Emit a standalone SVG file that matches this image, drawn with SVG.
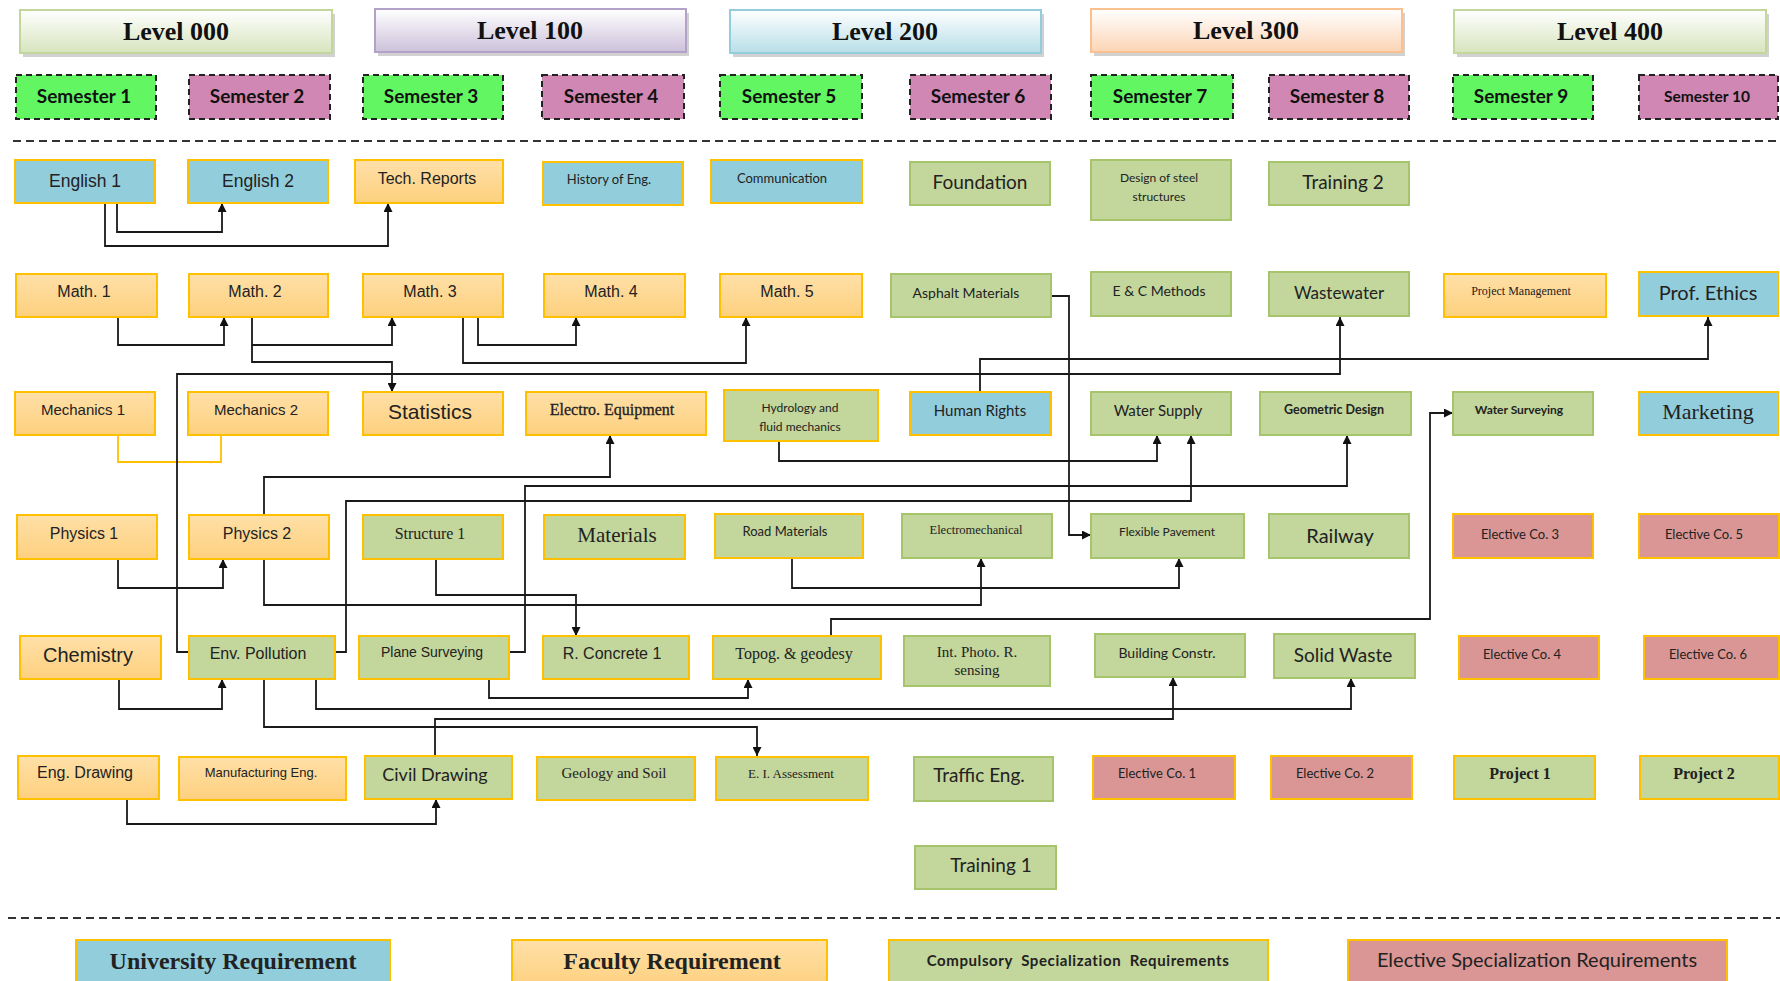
<svg xmlns="http://www.w3.org/2000/svg" width="1780" height="981" viewBox="0 0 1780 981">
<defs>
<style>
.blue{fill:#92cddc;stroke:#ffc000;stroke-width:2}
.org{fill:url(#gO);stroke:#ffc000;stroke-width:2}
.grn{fill:#c3d69b;stroke:#ffc000;stroke-width:2}
.grn2{fill:#c3d69b;stroke:#a6c46c;stroke-width:2}
.red{fill:#d99694;stroke:#ffc000;stroke-width:2}
.sg{fill:#62f762;stroke:#222;stroke-width:2;stroke-dasharray:6,4}
.sp{fill:#d087b3;stroke:#222;stroke-width:2;stroke-dasharray:6,4}
.shadow{fill:#999;opacity:.45}
text{fill:#222;text-anchor:middle}
.a{font-family:"Liberation Sans",Arial,sans-serif}
.c{font-family:Lato,"Open Sans",sans-serif}
.t{font-family:"Liberation Serif","Times New Roman",serif}
.lv{font-family:"Liberation Serif","Times New Roman",serif;font-weight:bold;font-size:26px;fill:#111}
.sem{font-family:Lato,"Open Sans",sans-serif;font-weight:bold;font-size:19px;fill:#111}
.ln{fill:none;stroke:#1a1a1a;stroke-width:1.8;marker-end:url(#ar)}
.dash{stroke:#333;stroke-width:2;stroke-dasharray:8,5}
</style>
<linearGradient id="gO" x1="0" y1="0" x2="0" y2="1"><stop offset="0" stop-color="#ffe0a8"/><stop offset="1" stop-color="#fdd07e"/></linearGradient>
<linearGradient id="gL0" x1="0" y1="0" x2="0" y2="1"><stop offset="0" stop-color="#ffffff"/><stop offset="1" stop-color="#d7e4bd"/></linearGradient>
<linearGradient id="gL1" x1="0" y1="0" x2="0" y2="1"><stop offset="0" stop-color="#ffffff"/><stop offset="1" stop-color="#ccc1da"/></linearGradient>
<linearGradient id="gL2" x1="0" y1="0" x2="0" y2="1"><stop offset="0" stop-color="#ffffff"/><stop offset="1" stop-color="#b7dee8"/></linearGradient>
<linearGradient id="gL3" x1="0" y1="0" x2="0" y2="1"><stop offset="0" stop-color="#ffffff"/><stop offset="1" stop-color="#fcd5b5"/></linearGradient>
<marker id="ar" viewBox="0 0 10 10" refX="10" refY="5" markerWidth="9" markerHeight="9" markerUnits="userSpaceOnUse" orient="auto"><path d="M0,0 L10,5 L0,10 z" fill="#111"/></marker>
</defs>
<rect width="1780" height="981" fill="#fff"/>

<!-- Level headers -->
<g id="level000"><rect class="shadow" x="23" y="14" width="312" height="43"/><rect x="20" y="10" width="312" height="43" fill="url(#gL0)" stroke="#c3d69b" stroke-width="2"/><text class="lv" x="176" y="40">Level 000</text></g>
<g id="level100"><rect class="shadow" x="378" y="13" width="311" height="43"/><rect x="375" y="9" width="311" height="43" fill="url(#gL1)" stroke="#b3a2c7" stroke-width="2"/><text class="lv" x="530" y="39">Level 100</text></g>
<g id="level200"><rect class="shadow" x="733" y="14" width="311" height="43"/><rect x="730" y="10" width="311" height="43" fill="url(#gL2)" stroke="#93cddd" stroke-width="2"/><text class="lv" x="885" y="40">Level 200</text></g>
<g id="level300"><rect class="shadow" x="1094" y="13" width="311" height="43"/><rect x="1091" y="9" width="311" height="43" fill="url(#gL3)" stroke="#fac090" stroke-width="2"/><text class="lv" x="1246" y="39">Level 300</text></g>
<g id="level400"><rect class="shadow" x="1457" y="14" width="312" height="43"/><rect x="1454" y="10" width="312" height="43" fill="url(#gL0)" stroke="#c3d69b" stroke-width="2"/><text class="lv" x="1610" y="40">Level 400</text></g>

<!-- Semesters -->
<g id="sem1"><rect class="sg" x="16" y="75" width="140" height="44"/><text class="sem" x="84" y="103">Semester 1</text></g>
<g id="sem2"><rect class="sp" x="189" y="75" width="141" height="44"/><text class="sem" x="257" y="103">Semester 2</text></g>
<g id="sem3"><rect class="sg" x="363" y="75" width="140" height="44"/><text class="sem" x="431" y="103">Semester 3</text></g>
<g id="sem4"><rect class="sp" x="542" y="75" width="142" height="44"/><text class="sem" x="611" y="103">Semester 4</text></g>
<g id="sem5"><rect class="sg" x="720" y="75" width="142" height="44"/><text class="sem" x="789" y="103">Semester 5</text></g>
<g id="sem6"><rect class="sp" x="910" y="75" width="141" height="44"/><text class="sem" x="978" y="103">Semester 6</text></g>
<g id="sem7"><rect class="sg" x="1091" y="75" width="142" height="44"/><text class="sem" x="1160" y="103">Semester 7</text></g>
<g id="sem8"><rect class="sp" x="1269" y="75" width="140" height="44"/><text class="sem" x="1337" y="103">Semester 8</text></g>
<g id="sem9"><rect class="sg" x="1453" y="75" width="140" height="44"/><text class="sem" x="1521" y="103">Semester 9</text></g>
<g id="sem10"><rect class="sp" x="1639" y="75" width="139" height="44"/><text class="sem" x="1707" y="102" style="font-size:15.5px">Semester 10</text></g>

<line class="dash" x1="13" y1="141" x2="1780" y2="141"/>
<line class="dash" x1="8" y1="918" x2="1780" y2="918"/>

<!-- Connectors -->
<g id="connectors">
<path class="ln" d="M117,203 V232 H222 V203"/>
<path class="ln" d="M105,203 V246 H388 V203"/>
<path class="ln" d="M118,317 V345 H224 V317"/>
<path class="ln" d="M252,317 V345 H392 V317"/>
<path class="ln" d="M252,345 V362 H392 V392"/>
<path class="ln" d="M478,317 V345 H576 V317"/>
<path class="ln" d="M463,317 V363 H746 V317"/>
<path d="M118,435 V462 H221 V435" fill="none" stroke="#ffc000" stroke-width="1.8"/>
<path class="ln" d="M189,652 H177 V374 H1340 V317"/>
<path class="ln" d="M980,392 V359 H1708 V317"/>
<path class="ln" d="M1051,296 H1069 V535 H1091"/>
<path class="ln" d="M779,441 V461 H1157 V435"/>
<path class="ln" d="M264,515 V477 H610 V435"/>
<path class="ln" d="M509,652 H525 V486 H1347 V435"/>
<path class="ln" d="M335,652 H346 V501 H1191 V435"/>
<path class="ln" d="M118,559 V588 H223 V559"/>
<path class="ln" d="M264,559 V605 H981 V558"/>
<path class="ln" d="M792,558 V588 H1179 V558"/>
<path class="ln" d="M436,559 V595 H576 V636"/>
<path class="ln" d="M831,636 V619 H1430 V413 H1453"/>
<path class="ln" d="M489,679 V698 H748 V679"/>
<path class="ln" d="M119,679 V709 H222 V679"/>
<path class="ln" d="M316,679 V709 H1351 V678"/>
<path class="ln" d="M264,679 V727 H757 V756"/>
<path class="ln" d="M435,756 V719 H1173 V677"/>
<path class="ln" d="M127,799 V824 H436 V799"/>
</g>

<!-- Row 1 -->
<g id="english1"><rect class="blue" x="15" y="160" width="140" height="43"/><text class="a" x="85" y="187" font-size="17.5">English 1</text></g>
<g id="english2"><rect class="blue" x="188" y="160" width="140" height="43"/><text class="a" x="258" y="187" font-size="17.5">English 2</text></g>
<g id="techreports"><rect class="org" x="355" y="160" width="148" height="43"/><text class="a" x="427" y="184" font-size="16">Tech. Reports</text></g>
<g id="history"><rect class="blue" x="543" y="162" width="140" height="43"/><text class="c" x="609" y="184" font-size="13">History of Eng.</text></g>
<g id="communication"><rect class="blue" x="711" y="160" width="151" height="43"/><text class="c" x="782" y="183" font-size="13">Communication</text></g>
<g id="foundation"><rect class="grn2" x="910" y="162" width="140" height="43"/><text class="c" x="980" y="189" font-size="19">Foundation</text></g>
<g id="steel"><rect class="grn2" x="1091" y="160" width="140" height="60"/><text class="c" x="1159" y="182" font-size="12">Design of steel</text><text class="c" x="1159" y="201" font-size="12">structures</text></g>
<g id="training2"><rect class="grn2" x="1269" y="162" width="140" height="43"/><text class="c" x="1343" y="189" font-size="19">Training 2</text></g>

<!-- Row 2 -->
<g id="math1"><rect class="org" x="16" y="274" width="141" height="43"/><text class="a" x="84" y="297" font-size="16">Math. 1</text></g>
<g id="math2"><rect class="org" x="189" y="274" width="139" height="43"/><text class="a" x="255" y="297" font-size="16">Math. 2</text></g>
<g id="math3"><rect class="org" x="363" y="274" width="140" height="43"/><text class="a" x="430" y="297" font-size="16">Math. 3</text></g>
<g id="math4"><rect class="org" x="544" y="274" width="141" height="43"/><text class="a" x="611" y="297" font-size="16">Math. 4</text></g>
<g id="math5"><rect class="org" x="720" y="274" width="142" height="43"/><text class="a" x="787" y="297" font-size="16">Math. 5</text></g>
<g id="asphalt"><rect class="grn2" x="891" y="274" width="160" height="43"/><text class="c" x="966" y="298" font-size="14">Asphalt Materials</text></g>
<g id="ecmethods"><rect class="grn2" x="1091" y="272" width="140" height="44"/><text class="c" x="1159" y="296" font-size="14">E &amp; C Methods</text></g>
<g id="wastewater"><rect class="grn2" x="1269" y="272" width="140" height="44"/><text class="c" x="1339" y="299" font-size="17">Wastewater</text></g>
<g id="projmgmt"><rect class="org" x="1444" y="274" width="162" height="43"/><text class="t" x="1521" y="295" font-size="12">Project Management</text></g>
<g id="profethics"><rect class="blue" x="1639" y="272" width="139" height="44"/><text class="c" x="1708" y="300" font-size="20">Prof. Ethics</text></g>

<!-- Row 3 -->
<g id="mechanics1"><rect class="org" x="15" y="392" width="140" height="43"/><text class="a" x="83" y="415" font-size="15">Mechanics 1</text></g>
<g id="mechanics2"><rect class="org" x="188" y="392" width="140" height="43"/><text class="a" x="256" y="415" font-size="15">Mechanics 2</text></g>
<g id="statistics"><rect class="org" x="363" y="392" width="140" height="43"/><text class="a" x="430" y="419" font-size="21">Statistics</text></g>
<g id="electroequip"><rect class="org" x="526" y="392" width="180" height="43"/><text class="t" x="612" y="415" font-size="16" stroke="#222" stroke-width="0.3">Electro. Equipment</text></g>
<g id="hydrology"><rect class="grn" x="724" y="390" width="154" height="51"/><text class="c" x="800" y="412" font-size="12">Hydrology and</text><text class="c" x="800" y="431" font-size="12">fluid mechanics</text></g>
<g id="humanrights"><rect class="blue" x="910" y="392" width="141" height="43"/><text class="c" x="980" y="416" font-size="15">Human Rights</text></g>
<g id="watersupply"><rect class="grn2" x="1091" y="392" width="140" height="43"/><text class="c" x="1158" y="416" font-size="15">Water Supply</text></g>
<g id="geometric"><rect class="grn2" x="1260" y="392" width="151" height="43"/><text class="c" x="1334" y="414" font-size="12.5" font-weight="bold">Geometric Design</text></g>
<g id="watersurveying"><rect class="grn2" x="1453" y="392" width="140" height="43"/><text class="c" x="1519" y="414" font-size="12" font-weight="bold">Water Surveying</text></g>
<g id="marketing"><rect class="blue" x="1639" y="392" width="139" height="43"/><text class="t" x="1708" y="419" font-size="22">Marketing</text></g>

<!-- Row 4 -->
<g id="physics1"><rect class="org" x="17" y="515" width="140" height="44"/><text class="a" x="84" y="539" font-size="16">Physics 1</text></g>
<g id="physics2"><rect class="org" x="189" y="515" width="140" height="44"/><text class="a" x="257" y="539" font-size="16">Physics 2</text></g>
<g id="structure1"><rect class="grn" x="363" y="515" width="140" height="44"/><text class="t" x="430" y="539" font-size="16">Structure 1</text></g>
<g id="materials"><rect class="grn" x="544" y="515" width="141" height="44"/><text class="t" x="617" y="542" font-size="21">Materials</text></g>
<g id="roadmaterials"><rect class="grn" x="715" y="514" width="148" height="44"/><text class="c" x="785" y="536" font-size="13">Road Materials</text></g>
<g id="electromech"><rect class="grn2" x="902" y="514" width="150" height="44"/><text class="t" x="976" y="534" font-size="12.5">Electromechanical</text></g>
<g id="flexible"><rect class="grn2" x="1091" y="514" width="153" height="44"/><text class="c" x="1167" y="536" font-size="12">Flexible Pavement</text></g>
<g id="railway"><rect class="grn2" x="1269" y="514" width="140" height="44"/><text class="c" x="1340" y="543" font-size="20">Railway</text></g>
<g id="elective3"><rect class="red" x="1453" y="514" width="140" height="44"/><text class="c" x="1520" y="539" font-size="13">Elective Co. 3</text></g>
<g id="elective5"><rect class="red" x="1639" y="514" width="140" height="44"/><text class="c" x="1704" y="539" font-size="13">Elective Co. 5</text></g>

<!-- Row 5 -->
<g id="chemistry"><rect class="org" x="20" y="636" width="141" height="43"/><text class="a" x="88" y="662" font-size="20">Chemistry</text></g>
<g id="envpollution"><rect class="grn" x="189" y="636" width="146" height="43"/><text class="a" x="258" y="659" font-size="16">Env. Pollution</text></g>
<g id="planesurveying"><rect class="grn" x="359" y="636" width="150" height="43"/><text class="a" x="432" y="657" font-size="14">Plane Surveying</text></g>
<g id="rconcrete1"><rect class="grn" x="543" y="636" width="146" height="43"/><text class="a" x="612" y="659" font-size="16">R. Concrete 1</text></g>
<g id="topog"><rect class="grn" x="713" y="636" width="168" height="43"/><text class="t" x="794" y="659" font-size="16">Topog. &amp; geodesy</text></g>
<g id="intphoto"><rect class="grn2" x="904" y="636" width="146" height="50"/><text class="t" x="977" y="657" font-size="15">Int. Photo. R.</text><text class="t" x="977" y="675" font-size="15">sensing</text></g>
<g id="buildingconstr"><rect class="grn2" x="1095" y="634" width="150" height="43"/><text class="c" x="1167" y="658" font-size="14">Building Constr.</text></g>
<g id="solidwaste"><rect class="grn2" x="1274" y="634" width="141" height="44"/><text class="c" x="1343" y="662" font-size="19">Solid Waste</text></g>
<g id="elective4"><rect class="red" x="1459" y="636" width="140" height="43"/><text class="c" x="1522" y="659" font-size="13">Elective Co. 4</text></g>
<g id="elective6"><rect class="red" x="1644" y="636" width="135" height="43"/><text class="c" x="1708" y="659" font-size="13">Elective Co. 6</text></g>

<!-- Row 6 -->
<g id="engdrawing"><rect class="org" x="18" y="756" width="141" height="43"/><text class="a" x="85" y="778" font-size="16">Eng. Drawing</text></g>
<g id="manufacturing"><rect class="org" x="179" y="757" width="167" height="43"/><text class="a" x="261" y="777" font-size="13">Manufacturing Eng.</text></g>
<g id="civildrawing"><rect class="grn" x="365" y="756" width="147" height="43"/><text class="c" x="435" y="781" font-size="18">Civil Drawing</text></g>
<g id="geology"><rect class="grn" x="537" y="757" width="158" height="43"/><text class="t" x="614" y="778" font-size="15">Geology and Soil</text></g>
<g id="eia"><rect class="grn" x="716" y="757" width="152" height="43"/><text class="t" x="791" y="778" font-size="13">E. I. Assessment</text></g>
<g id="traffic"><rect class="grn2" x="914" y="757" width="139" height="44"/><text class="c" x="979" y="782" font-size="19">Traffic Eng.</text></g>
<g id="elective1"><rect class="red" x="1093" y="756" width="142" height="43"/><text class="c" x="1157" y="778" font-size="13">Elective Co. 1</text></g>
<g id="elective2"><rect class="red" x="1271" y="756" width="141" height="43"/><text class="c" x="1335" y="778" font-size="13">Elective Co. 2</text></g>
<g id="project1"><rect class="grn" x="1454" y="756" width="141" height="43"/><text class="t" x="1520" y="779" font-size="16" font-weight="bold">Project 1</text></g>
<g id="project2"><rect class="grn" x="1640" y="756" width="139" height="43"/><text class="t" x="1704" y="779" font-size="16" font-weight="bold">Project 2</text></g>

<g id="training1"><rect class="grn2" x="915" y="846" width="141" height="43"/><text class="c" x="991" y="872" font-size="19">Training 1</text></g>

<!-- Legend -->
<g id="legend-university"><rect class="blue" x="76" y="940" width="314" height="48"/><text class="t" x="233" y="969" font-size="24" font-weight="bold">University Requirement</text></g>
<g id="legend-faculty"><rect class="org" x="512" y="940" width="315" height="48"/><text class="t" x="672" y="969" font-size="24" font-weight="bold">Faculty Requirement</text></g>
<g id="legend-compulsory"><rect class="grn" x="889" y="940" width="379" height="48"/><text class="c" x="1078" y="966" font-size="15" font-weight="bold" letter-spacing="0.6" xml:space="preserve">Compulsory  Specialization  Requirements</text></g>
<g id="legend-elective"><rect class="red" x="1348" y="940" width="379" height="48"/><text class="c" x="1537" y="967" font-size="20">Elective Specialization Requirements</text></g>
</svg>
